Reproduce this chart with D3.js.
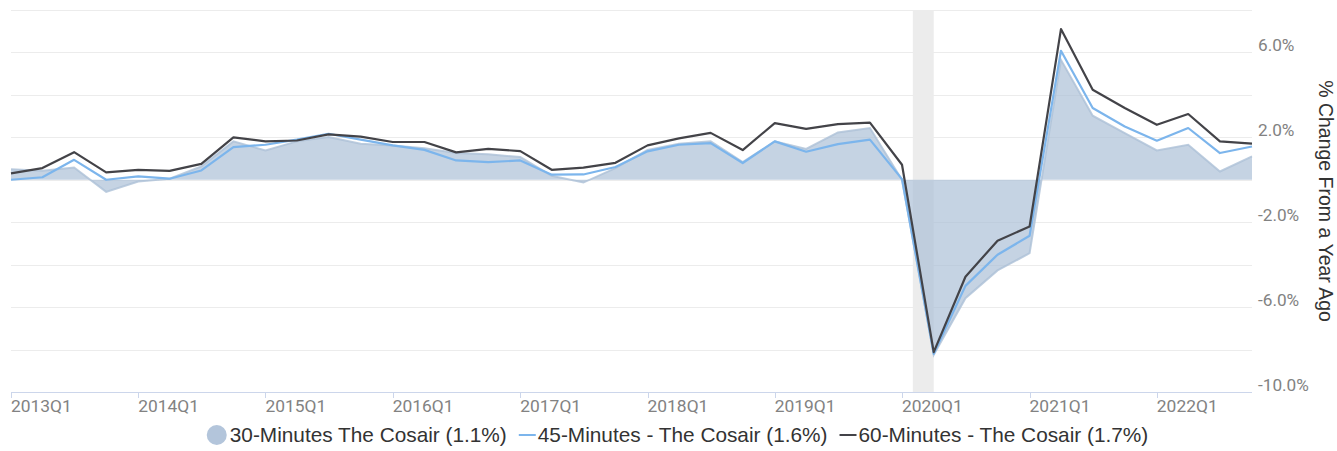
<!DOCTYPE html>
<html>
<head>
<meta charset="utf-8">
<script src="https://cdn.jsdelivr.net/npm/d3@7"></script>
<style>
  html, body { margin: 0; padding: 0; background: #fff; }
  svg { display: block; font-family: Roboto, "Liberation Sans", Arial, sans-serif; }
</style>
</head>
<body>
<svg id="chart" width="1337" height="451"></svg>
<script>
// ---------- DATA ----------
const quarters = [
  "2013Q1","2013Q2","2013Q3","2013Q4","2014Q1","2014Q2","2014Q3","2014Q4",
  "2015Q1","2015Q2","2015Q3","2015Q4","2016Q1","2016Q2","2016Q3","2016Q4",
  "2017Q1","2017Q2","2017Q3","2017Q4","2018Q1","2018Q2","2018Q3","2018Q4",
  "2019Q1","2019Q2","2019Q3","2019Q4","2020Q1","2020Q2","2020Q3","2020Q4",
  "2021Q1","2021Q2","2021Q3","2021Q4","2022Q1","2022Q2","2022Q3","2022Q4"
];
const min30 = [
  0.50, 0.42, 0.58, -0.57, -0.08, 0.05, 0.63, 1.81,
  1.38, 1.81, 2.01, 1.70, 1.62, 1.49, 1.26, 1.20,
  1.07, 0.19, -0.13, 0.55, 1.41, 1.70, 1.81, 0.83,
  1.81, 1.45, 2.23, 2.44, 0.00, -8.25, -5.58, -4.27,
  -3.46, 5.65, 3.02, 2.20, 1.38, 1.65, 0.39, 1.10
];
const min45 = [
  0.00, 0.12, 0.94, 0.00, 0.16, 0.05, 0.44, 1.54,
  1.65, 1.89, 2.17, 1.89, 1.62, 1.41, 0.91, 0.83,
  0.91, 0.24, 0.25, 0.60, 1.34, 1.65, 1.73, 0.79,
  1.81, 1.32, 1.68, 1.89, 0.03, -8.20, -5.00, -3.53,
  -2.64, 6.08, 3.38, 2.51, 1.84, 2.44, 1.26, 1.57
];
const min60 = [
  0.30, 0.55, 1.30, 0.35, 0.47, 0.42, 0.75, 2.00,
  1.81, 1.85, 2.14, 2.03, 1.78, 1.78, 1.29, 1.46,
  1.35, 0.47, 0.57, 0.80, 1.62, 1.95, 2.21, 1.40,
  2.67, 2.40, 2.62, 2.69, 0.71, -8.12, -4.57, -2.87,
  -2.20, 7.10, 4.24, 3.38, 2.59, 3.10, 1.81, 1.70
];
const seriesNames = [
  "30-Minutes The Cosair (1.1%)",
  "45-Minutes - The Cosair (1.6%)",
  "60-Minutes - The Cosair (1.7%)"
];
const recession = ["2020-02-01", "2020-04-01"];
const yTickValues = [6, 2, -2, -6, -10];
const yGridValues = [8, 6, 4, 2, 0, -2, -4, -6, -8, -10];
const yDomain = [-10, 8];
const yTitle = "% Change From a Year Ago";

// ---------- LAYOUT ----------
(function () {
const svg = d3.select("#chart");
const pLeft = 11, pRight = 1252, pTop = 10, pBottom = 392;
const sans = '"Liberation Sans", Arial, sans-serif';

const parseQ = q => new Date(+q.slice(0, 4), (+q.slice(5) - 1) * 3, 1);
const dates = quarters.map(parseQ);

const x = d3.scaleTime().domain(d3.extent(dates)).range([pLeft, pRight]);
const y = d3.scaleLinear().domain(yDomain).range([pBottom, pTop]);

// recession band
const p = d3.timeParse("%Y-%m-%d");
svg.append("rect")
  .attr("x", x(p(recession[0])))
  .attr("y", pTop)
  .attr("width", x(p(recession[1])) - x(p(recession[0])))
  .attr("height", pBottom - pTop)
  .attr("fill", "#ececec");

// grid
svg.append("g").selectAll("line").data(yGridValues).join("line")
  .attr("x1", pLeft).attr("x2", pRight)
  .attr("y1", d => Math.round(y(d)) + 0.5).attr("y2", d => Math.round(y(d)) + 0.5)
  .attr("stroke", "#ececec").attr("stroke-width", 1);

const data30 = dates.map((d, i) => ({ d, v: min30[i] }));
const data45 = dates.map((d, i) => ({ d, v: min45[i] }));
const data60 = dates.map((d, i) => ({ d, v: min60[i] }));

svg.append("path").datum(data30)
  .attr("d", d3.area().x(d => x(d.d)).y0(y(0)).y1(d => y(d.v)))
  .attr("fill", "#adc0d7").attr("fill-opacity", 0.7);
svg.append("path").datum(data30)
  .attr("d", d3.line().x(d => x(d.d)).y(d => y(d.v)))
  .attr("fill", "none").attr("stroke", "#adc0d7").attr("stroke-width", 2).attr("stroke-opacity", 0.8);

svg.append("path").datum(data45)
  .attr("d", d3.line().x(d => x(d.d)).y(d => y(d.v)))
  .attr("fill", "none").attr("stroke", "#7cb5ec").attr("stroke-width", 2.2)
  .attr("stroke-linejoin", "round");
svg.append("path").datum(data60)
  .attr("d", d3.line().x(d => x(d.d)).y(d => y(d.v)))
  .attr("fill", "none").attr("stroke", "#434348").attr("stroke-width", 2.2)
  .attr("stroke-linejoin", "round");

// x axis
const xTicks = dates.filter(d => d.getMonth() === 0);
const xa = svg.append("g");
xa.append("line").attr("x1", pLeft).attr("x2", pRight)
  .attr("y1", pBottom + 0.5).attr("y2", pBottom + 0.5).attr("stroke", "#ccd6eb");
xa.selectAll("line.tick").data(xTicks).join("line").attr("class", "tick")
  .attr("x1", d => Math.round(x(d)) + 0.5).attr("x2", d => Math.round(x(d)) + 0.5)
  .attr("y1", pBottom).attr("y2", pBottom + 6).attr("stroke", "#ccd6eb");
xa.selectAll("text").data(xTicks).join("text")
  .attr("x", d => x(d)).attr("y", pBottom + 19.5)
  .attr("fill", "#828282").attr("font-size", 17.4)
  .text(d => quarters[dates.indexOf(d)]);

// y labels
svg.append("g").selectAll("text").data(yTickValues).join("text")
  .attr("x", pRight + 6).attr("y", d => y(d) - 1)
  .attr("fill", "#828282").attr("font-size", 17.2)
  .text(d => d.toFixed(1) + "%");

// y title
svg.append("text")
  .attr("transform", `translate(${1319},${(pTop + pBottom) / 2}) rotate(90)`)
  .attr("text-anchor", "middle")
  .attr("font-family", sans)
  .attr("fill", "#333").attr("font-size", 19.5)
  .text(yTitle);

// legend
const lg = svg.append("g");
const colors = ["#b3c5db", "#7cb5ec", "#434348"];
let cx = 0;
seriesNames.forEach((name, i) => {
  const g = lg.append("g");
  let sw;
  if (i === 0) {
    g.append("circle").attr("cx", 10).attr("cy", 0).attr("r", 10).attr("fill", colors[i]);
    sw = 23;
  } else {
    g.append("line").attr("x1", 0).attr("x2", 17).attr("y1", 0).attr("y2", 0)
      .attr("stroke", colors[i]).attr("stroke-width", 2);
    sw = 19;
  }
  const t = g.append("text").attr("x", sw).attr("y", 7.4)
    .attr("font-family", sans)
    .attr("fill", "#333").attr("font-size", 20.8).text(name);
  const w = sw + t.node().getComputedTextLength();
  g.attr("transform", `translate(${cx},0)`);
  cx += w + 12;
});
const totalW = cx - 12;
lg.attr("transform", `translate(${677.5 - totalW / 2},${435})`);
})();
</script>
</body>
</html>
